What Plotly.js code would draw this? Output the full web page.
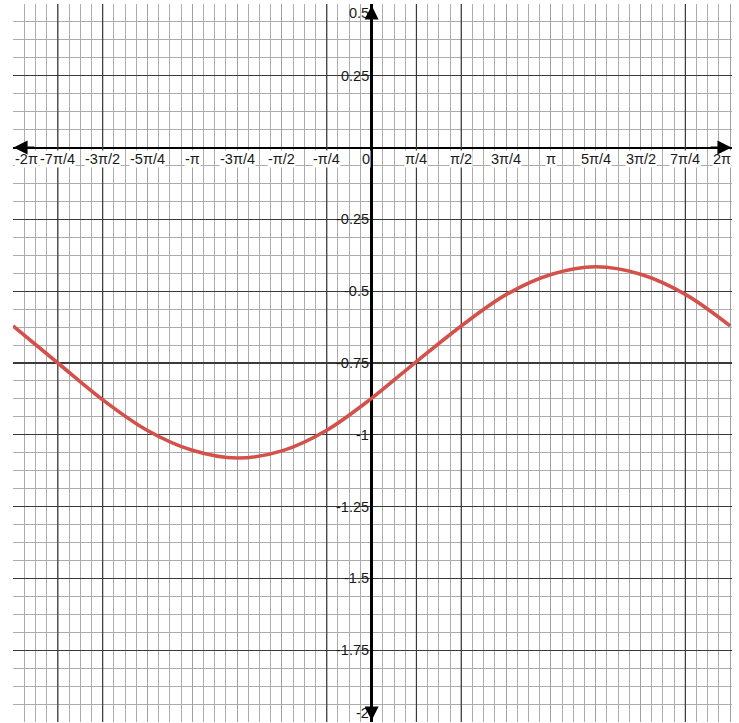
<!DOCTYPE html>
<html>
<head>
<meta charset="utf-8">
<script src="https://cdn.plot.ly/plotly-3.0.1.min.js"></script>
<style>
html,body{margin:0;padding:0;background:#fff;}
#chart{width:739px;height:723px;}
</style>
</head>
<body>
<div id="chart"></div>
<script>
const PI = Math.PI;

// Curve values (x in radians, every pi/4)
const curveX = [-2*PI, -1.75*PI, -1.5*PI, -1.25*PI, -PI, -0.75*PI, -0.5*PI, -0.25*PI, 0,
                0.25*PI, 0.5*PI, 0.75*PI, PI, 1.25*PI, 1.5*PI, 1.75*PI, 2*PI];
const curveY = [-0.621, -0.750, -0.878, -0.985, -1.054, -1.081, -1.056, -0.984, -0.873,
                -0.745, -0.621, -0.512, -0.442, -0.415, -0.441, -0.511, -0.621];

// x tick labels (multiples of pi/4)
const xTickVals = [-2*PI, -1.75*PI, -1.5*PI, -1.25*PI, -PI, -0.75*PI, -0.5*PI, -0.25*PI, 0,
                   0.25*PI, 0.5*PI, 0.75*PI, PI, 1.25*PI, 1.5*PI, 1.75*PI, 2*PI];
const xTickText = ['-2π', '-7π/4', '-3π/2', '-5π/4', '-π', '-3π/4', '-π/2', '-π/4', '0',
                   'π/4', 'π/2', '3π/4', 'π', '5π/4', '3π/2', '7π/4', '2π'];

// y tick labels
const yTickVals = [0.5, 0.25, -0.25, -0.5, -0.75, -1, -1.25, -1.5, -1.75, -2];
const yTickText = ['0.5', '0.25', '-0.25', '-0.5', '-0.75', '-1', '-1.25', '-1.5', '-1.75', '-2'];

// darker vertical grid lines on the paper
const xDarkLines = [-1.75*PI, -1.5*PI, -0.25*PI, 0.25*PI, 0.5*PI, 1.75*PI];

const xRange = [-6.2836, 6.315];
const yRange = [-2, 0.5];
const font = {family: 'Liberation Sans, Arial, sans-serif', size: 14.5, color: '#1a1a1a'};

const annotations = [];
xTickVals.forEach((v, i) => {
  let xanchor = 'center', xshift = 0;
  if (i === 0) { xanchor = 'left'; xshift = 1; }
  else if (i === xTickVals.length - 1) { xanchor = 'right'; xshift = 2; }
  else if (v === 0) { xanchor = 'right'; xshift = -1; }
  annotations.push({
    x: v, y: 0, xref: 'x', yref: 'y', text: xTickText[i], showarrow: false,
    xanchor: xanchor, yanchor: 'top', xshift: xshift, yshift: -2,
    font: font, bgcolor: '#ffffff', borderpad: 0
  });
});
yTickVals.forEach((v, i) => {
  let yanchor = 'middle';
  if (v === yRange[1]) yanchor = 'top';
  else if (v === yRange[0]) yanchor = 'bottom';
  annotations.push({
    x: 0, y: v, xref: 'x', yref: 'y', text: yTickText[i], showarrow: false,
    xanchor: 'right', yanchor: yanchor, xshift: -2,
    font: font, borderpad: 0
  });
});
// axis arrowheads
const arrowStyle = {showarrow: true, arrowhead: 2, arrowsize: 1.4, arrowwidth: 2, arrowcolor: '#000',
                    axref: 'x', ayref: 'y', text: '', xref: 'x', yref: 'y'};
annotations.push(Object.assign({}, arrowStyle, {x: xRange[0] + 0.01, y: 0, ax: xRange[0] + 0.4, ay: 0}));
annotations.push(Object.assign({}, arrowStyle, {x: xRange[1] - 0.01, y: 0, ax: xRange[1] - 0.4, ay: 0}));
annotations.push(Object.assign({}, arrowStyle, {x: 0, y: yRange[1] - 0.005, ax: 0, ay: yRange[1] - 0.1}));
annotations.push(Object.assign({}, arrowStyle, {x: 0, y: yRange[0] + 0.005, ax: 0, ay: yRange[0] + 0.1}));

// dark paper lines drawn as a background trace
const darkX = [], darkY = [];
xDarkLines.forEach(v => { darkX.push(v, v, null); darkY.push(yRange[0], yRange[1], null); });

const data = [
  {
    x: darkX, y: darkY, type: 'scatter', mode: 'lines',
    line: {color: '#3a3a3a', width: 1.2}, hoverinfo: 'skip', connectgaps: false
  },
  {
    x: curveX, y: curveY, type: 'scatter', mode: 'lines',
    line: {color: '#d4504b', width: 3.6, shape: 'spline', smoothing: 1},
    hoverinfo: 'skip'
  }
];

const layout = {
  width: 739, height: 723,
  margin: {l: 13, r: 7, t: 4, b: 1, pad: 0},
  paper_bgcolor: '#fff', plot_bgcolor: '#fff',
  showlegend: false,
  xaxis: {
    range: xRange, tickmode: 'array', tickvals: xTickVals,
    showticklabels: false, ticks: '',
    showgrid: true, gridcolor: '#a0a0a0', gridwidth: 1,
    zeroline: true, zerolinecolor: '#000', zerolinewidth: 2.5,
    showline: false,
    minor: {dtick: PI/16, tick0: 0, showgrid: true, gridcolor: '#acacac', gridwidth: 1, ticks: ''}
  },
  yaxis: {
    range: yRange, tickmode: 'linear', dtick: 0.25, tick0: 0,
    showticklabels: false, ticks: '',
    showgrid: true, gridcolor: '#3a3a3a', gridwidth: 1.2,
    zeroline: true, zerolinecolor: '#000', zerolinewidth: 2,
    showline: false,
    minor: {dtick: 0.0625, tick0: 0, showgrid: true, gridcolor: '#acacac', gridwidth: 1, ticks: ''}
  },
  annotations: annotations
};

Plotly.newPlot('chart', data, layout, {displayModeBar: false, staticPlot: true});
</script>
</body>
</html>
